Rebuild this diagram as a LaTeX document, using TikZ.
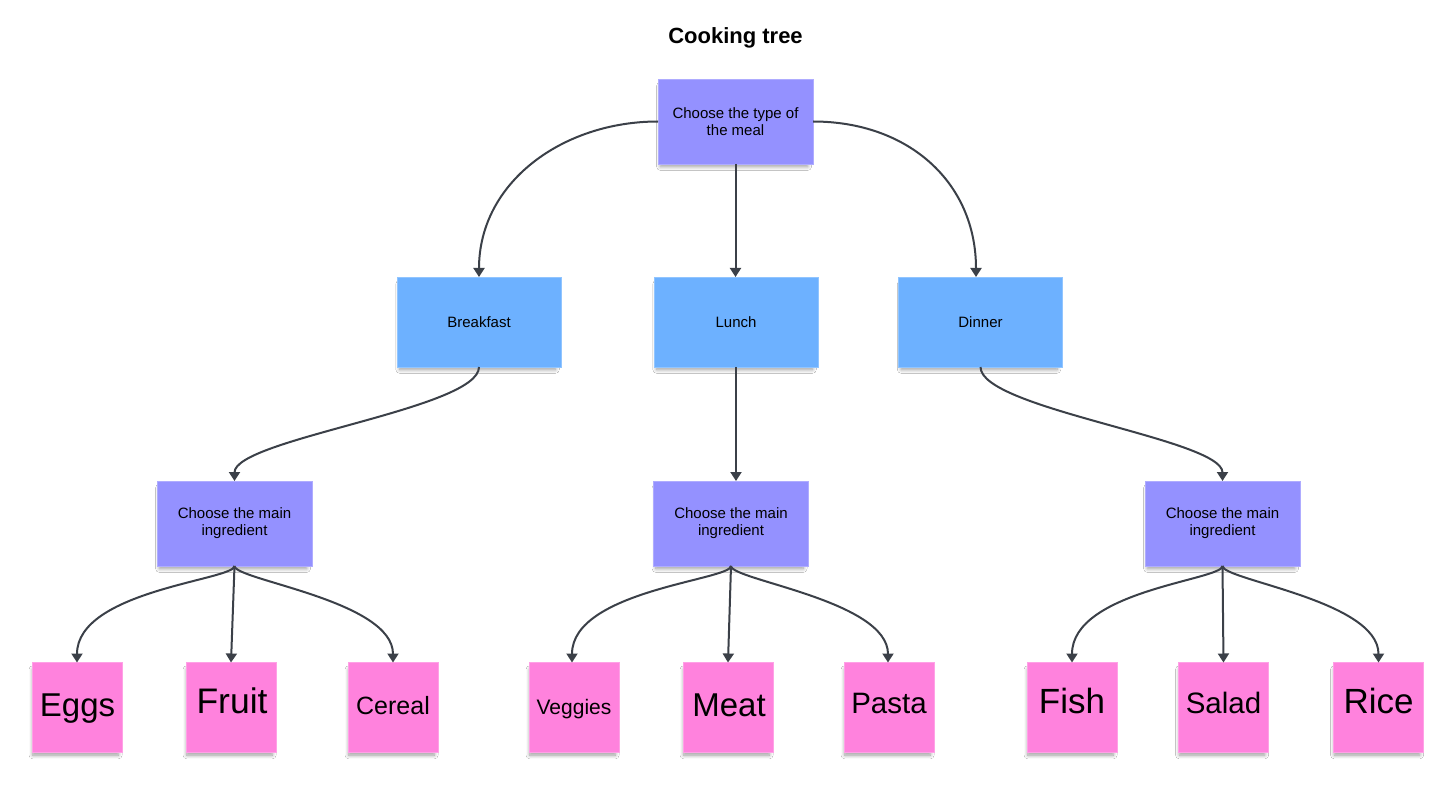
\documentclass[tikz,border=0pt]{standalone}
\usepackage{fontspec}
\setmainfont{Liberation Sans}
\usetikzlibrary{arrows.meta,shadows.blur}
\definecolor{violetbox}{HTML}{9491FF}
\definecolor{bluebox}{HTML}{6DB1FF}
\definecolor{pinkbox}{HTML}{FF82DD}
\definecolor{edgecol}{HTML}{3B4048}
\begin{document}
\begin{tikzpicture}[x=1pt,y=-1pt,
  card/.style={draw=#1!75!white, line width=0.5pt, fill=#1, inner sep=0pt, outer sep=0pt,
    blur shadow={shadow xshift=-1.5pt, shadow yshift=-5pt, shadow blur radius=4pt, shadow blur steps=8, shadow opacity=40, shadow scale=0.95}},
  smalltext/.style={align=center, font=\fontsize{15}{17}\selectfont, text=black},
  choicebox/.style={card=violetbox, minimum width=155pt, minimum height=85pt, smalltext},
  mealbox/.style={card=bluebox, minimum width=164pt, minimum height=90pt, smalltext},
  leafbox/.style={card=pinkbox, minimum width=90pt, minimum height=90pt},
  leaftext/.style={anchor=base, inner sep=0pt, font=\fontsize{#1}{#1}\selectfont, text=black},
  conn/.style={draw=edgecol, line width=2pt, -{Triangle[width=11pt,length=9pt]}}]
\useasboundingbox (0,0) rectangle (1456,786);
\fill[white] (0,0) rectangle (1456,786);

\node[anchor=base, font=\bfseries\fontsize{22}{26}\selectfont] (title) at (735.5,44) {Cooking tree};

\node[choicebox] (top) at (735.5,121.5) {Choose the type of\\the meal};

\node[mealbox] (bf) at (479,322) {Breakfast};
\node[mealbox] (lunch) at (736,322) {Lunch};
\node[mealbox] (din) at (980.5,322) {Dinner};

\node[choicebox] (i1) at (234.5,523.5) {Choose the main\\ingredient};
\node[choicebox] (i2) at (731,523.5) {Choose the main\\ingredient};
\node[choicebox] (i3) at (1222.5,523.5) {Choose the main\\ingredient};

\node[leafbox] (eggs) at (77,707.5) {};
\node[leafbox] (fruit) at (231,707.5) {};
\node[leafbox] (cereal) at (393,707.5) {};
\node[leafbox] (veg) at (574,707.5) {};
\node[leafbox] (meat) at (728,707.5) {};
\node[leafbox] (pasta) at (889,707.5) {};
\node[leafbox] (fish) at (1072,707.5) {};
\node[leafbox] (salad) at (1223.5,707.5) {};
\node[leafbox] (rice) at (1378.5,707.5) {};

\node[leaftext=33] (teggs) at (77.5,716) {Eggs};
\node[leaftext=35.5] (tfruit) at (232,713.5) {Fruit};
\node[leaftext=25] (tcereal) at (393,714.5) {Cereal};
\node[leaftext=21] (tveg) at (574,714) {Veggies};
\node[leaftext=33] (tmeat) at (729,716) {Meat};
\node[leaftext=29.5] (tpasta) at (889,713) {Pasta};
\node[leaftext=35] (tfish) at (1072,713.5) {Fish};
\node[leaftext=29.5] (tsalad) at (1223.5,713.5) {Salad};
\node[leaftext=35] (trice) at (1378.5,713.5) {Rice};

% top level
\draw[conn] (top.west) .. controls +(-95,0) and +(0,-95) .. (bf.north);
\draw[conn] (top.south) -- (top.south |- lunch.north);
\draw[conn] (top.east) .. controls +(95,0) and +(0,-95) .. ([xshift=-4.5pt]din.north);

% meals to choices
\draw[conn] (bf.south) .. controls +(0,42) and +(0,-42) .. (i1.north);
\draw[conn] (lunch.south) -- (lunch.south |- i2.north);
\draw[conn] (din.south) .. controls +(0,42) and +(0,-42) .. (i3.north);

% choices to leaves
\draw[conn] (i1.south) .. controls +(0,14) and +(0,-72) .. (eggs.north);
\draw[conn] (i1.south) -- (fruit.north);
\draw[conn] (i1.south) .. controls +(0,14) and +(0,-62) .. (cereal.north);

\draw[conn] (i2.south) .. controls +(0,14) and +(0,-72) .. ([xshift=-2pt]veg.north);
\draw[conn] (i2.south) -- (meat.north);
\draw[conn] (i2.south) .. controls +(0,14) and +(0,-62) .. ([xshift=-1pt]pasta.north);

\draw[conn] (i3.south) .. controls +(0,14) and +(0,-72) .. (fish.north);
\draw[conn] (i3.south) -- (salad.north);
\draw[conn] (i3.south) .. controls +(0,14) and +(0,-62) .. (rice.north);
\end{tikzpicture}
\end{document}
